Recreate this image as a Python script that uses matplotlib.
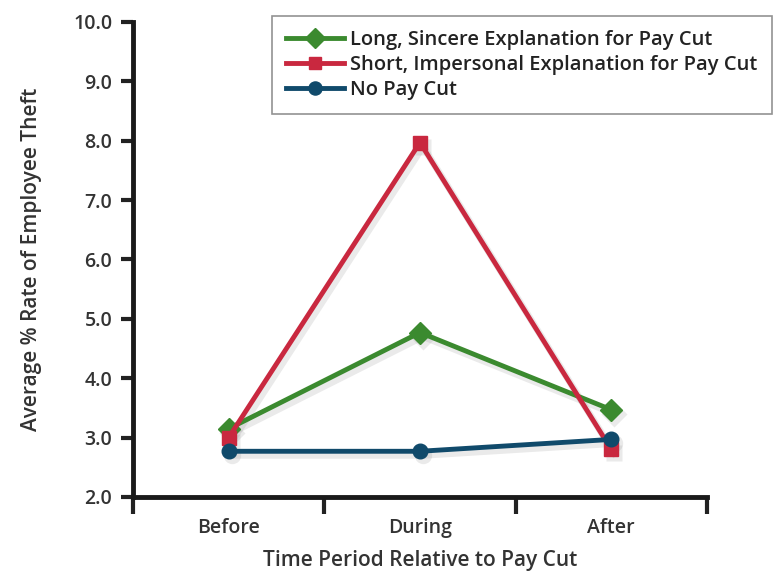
import matplotlib
matplotlib.use("Agg")
import matplotlib.pyplot as plt
from matplotlib.transforms import offset_copy

periods = ["Before", "During", "After"]
long_sincere = [3.15, 4.77, 3.47]
short_impersonal = [3.0, 7.97, 2.8]
no_pay_cut = [2.77, 2.77, 2.97]

series = [
    ("Long, Sincere Explanation for Pay Cut", long_sincere, "#3b8a2f", "D", 11),
    ("Short, Impersonal Explanation for Pay Cut", short_impersonal, "#c9283f", "s", 10),
    ("No Pay Cut", no_pay_cut, "#104a6b", "o", 10.5),
]

plt.rcParams["font.family"] = ["Open Sans", "DejaVu Sans"]
plt.rcParams["font.weight"] = "semibold"
plt.rcParams["axes.labelweight"] = "semibold"

fig = plt.figure(figsize=(7.74, 5.71), dpi=100)
ax = fig.add_axes([0.1718, 0.1296, 0.7416, 0.8319])

x = [i + 0.5 for i in range(len(periods))]
shadow_tf = offset_copy(ax.transData, fig=fig, x=3, y=-4, units="dots")
for label, vals, color, marker, ms in series:
    # soft drop shadow under each series
    ax.plot(x, vals, color="0.55", alpha=0.18, lw=5, marker=marker, ms=ms + 2,
            mec="none", transform=shadow_tf, clip_on=False, zorder=2)
    ax.plot(x, vals, color=color, lw=3.5, marker=marker, ms=ms,
            label=label, clip_on=False, zorder=3)

ax.set_xlim(0, 3)
ax.set_ylim(2.0, 10.0)
ax.set_xticks([0, 1, 2, 3])
ax.set_xticklabels([])
ax.set_xticks(x, minor=True)
ax.set_xticklabels(periods, minor=True)
ax.tick_params(axis="x", which="minor", length=0, pad=15, labelsize=14, labelcolor="#333333")
ax.tick_params(axis="x", which="major", length=12, width=3, direction="out", color="#222222")
ax.set_yticks([2, 3, 4, 5, 6, 7, 8, 9, 10])
ax.set_yticklabels([f"{v:.1f}" for v in range(2, 11)])
ax.tick_params(axis="y", length=9, width=3, direction="out", color="#222222",
               labelsize=14, labelcolor="#333333", pad=6)

for side in ("top", "right"):
    ax.spines[side].set_visible(False)
for side in ("left", "bottom"):
    ax.spines[side].set_linewidth(3.5)
    ax.spines[side].set_color("#1a1a1a")

ax.set_xlabel("Time Period Relative to Pay Cut", fontsize=15, color="#333333", labelpad=9)
ax.set_ylabel("Average % Rate of Employee Theft", fontsize=15, color="#333333", labelpad=22)

leg = ax.legend(loc="upper right", bbox_to_anchor=(0.997, 0.972), bbox_transform=fig.transFigure,
                fontsize=14.5, frameon=True, fancybox=False, borderpad=0.7,
                handlelength=2.9, handletextpad=0.3, labelspacing=0.25, borderaxespad=0,
                markerscale=0.9)
leg.get_frame().set_edgecolor("#777777")
leg.get_frame().set_linewidth(1.2)
for t in leg.get_texts():
    t.set_color("#222222")

fig.savefig("out.png", dpi=100)
